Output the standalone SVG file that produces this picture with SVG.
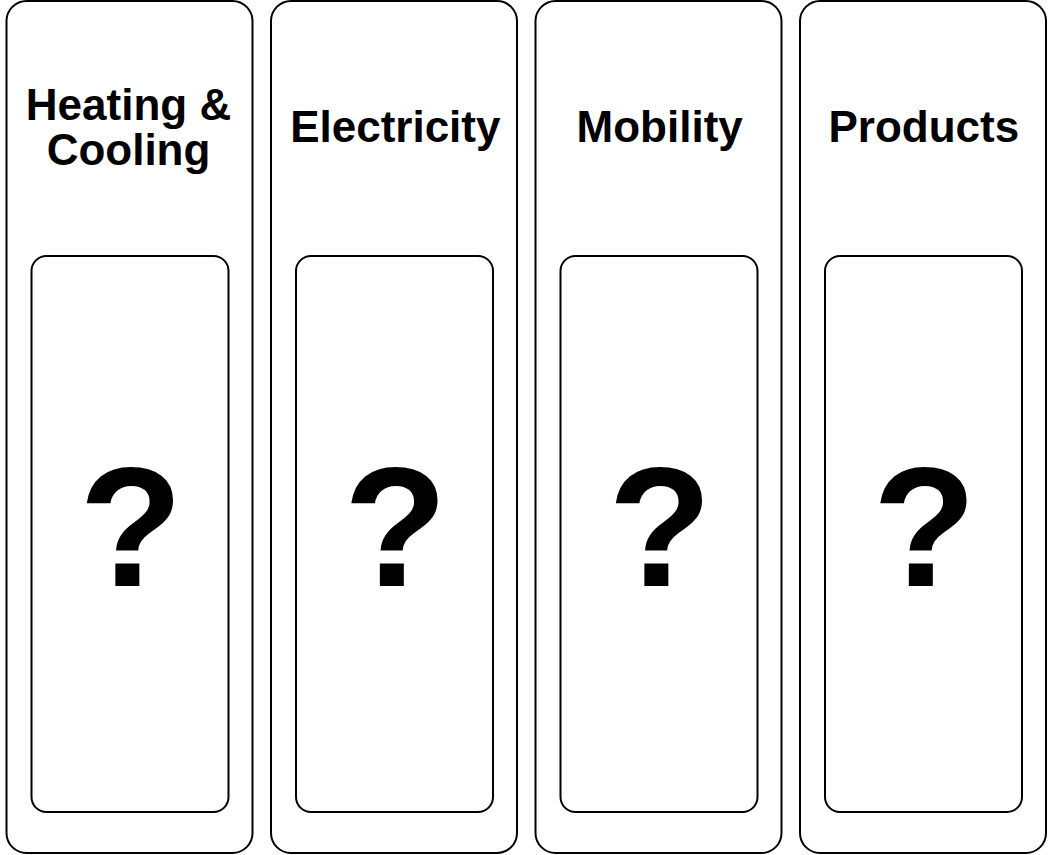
<svg xmlns="http://www.w3.org/2000/svg" width="1051" height="855" viewBox="0 0 1051 855">
<style>
.outer{fill:#fff;stroke:#000;stroke-width:2}
.inner{fill:#fff;stroke:#000;stroke-width:2}
.title{font-family:"Liberation Sans",Arial,sans-serif;font-weight:bold;font-size:44px;fill:#000;text-anchor:middle}
.q{font-family:"Liberation Sans",Arial,sans-serif;font-weight:bold;font-size:170px;fill:#000;text-anchor:middle}
</style>
<rect width="1051" height="855" fill="#fff"/>
<g id="heating-cooling">
<rect class="outer" x="6.5" y="1" width="246" height="852" rx="20"/>
<rect class="inner" x="31.5" y="256" width="197" height="556" rx="15"/>
<text class="title" x="128.5" y="120">Heating &amp;</text>
<text class="title" x="128.5" y="165">Cooling</text>
<text class="q" x="131" y="586">?</text>
</g>
<g id="electricity">
<rect class="outer" x="271" y="1" width="246" height="852" rx="20"/>
<rect class="inner" x="296" y="256" width="197" height="556" rx="15"/>
<text class="title" x="395.3" y="142">Electricity</text>
<text class="q" x="395.5" y="586">?</text>
</g>
<g id="mobility">
<rect class="outer" x="535.5" y="1" width="246" height="852" rx="20"/>
<rect class="inner" x="560.5" y="256" width="197" height="556" rx="15"/>
<text class="title" x="659.7" y="142">Mobility</text>
<text class="q" x="660" y="586">?</text>
</g>
<g id="products">
<rect class="outer" x="800" y="1" width="246" height="852" rx="20"/>
<rect class="inner" x="825" y="256" width="197" height="556" rx="15"/>
<text class="title" x="923.8" y="142">Products</text>
<text class="q" x="924.5" y="586">?</text>
</g>
<g id="connectors"></g>
</svg>
